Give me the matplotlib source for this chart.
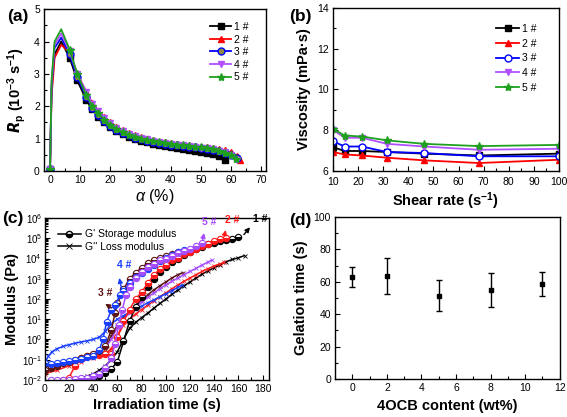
import matplotlib
matplotlib.use('Agg')
import matplotlib.pyplot as plt
from matplotlib.ticker import MultipleLocator, LogLocator, NullFormatter

plt.rcParams['font.family'] = ['Liberation Sans', 'DejaVu Sans']
plt.rcParams['mathtext.fontset'] = 'custom'
plt.rcParams['mathtext.rm'] = 'Liberation Sans'
plt.rcParams['mathtext.it'] = 'Liberation Sans:italic'
plt.rcParams['mathtext.bf'] = 'Liberation Sans:bold'

# ---- (a) polymerization rate vs conversion ----
alpha_1 = [0, 0.5, 1.5, 3.7, 6.5, 9, 12, 14, 16, 18, 20, 22, 24, 26, 28, 30, 32, 34, 36, 38,
           40, 42, 44, 46, 48, 50, 52, 54, 56, 58]
rp_1 = [0.05, 2.5, 3.6, 4.0, 3.5, 2.8, 2.2, 1.9, 1.68, 1.5, 1.36, 1.24, 1.14, 1.06, 1.0, 0.94,
        0.89, 0.84, 0.8, 0.76, 0.73, 0.7, 0.67, 0.64, 0.61, 0.58, 0.55, 0.51, 0.45, 0.35]
alpha_2 = [0, 0.5, 1.5, 3.7, 6.5, 9, 12, 14, 16, 18, 20, 22, 24, 26, 28, 30, 32, 34, 36, 38,
           40, 42, 44, 46, 48, 50, 52, 54, 56, 58, 60, 62, 63]
rp_2 = [0.05, 2.3, 3.5, 3.9, 3.65, 3.0, 2.45, 2.1, 1.86, 1.66, 1.5, 1.37, 1.26, 1.17, 1.1, 1.04,
        0.99, 0.95, 0.91, 0.88, 0.85, 0.83, 0.81, 0.79, 0.77, 0.75, 0.73, 0.71, 0.68, 0.64,
        0.58, 0.46, 0.34]
alpha_3 = [0, 0.5, 1.5, 3.7, 6.5, 9, 12, 14, 16, 18, 20, 22, 24, 26, 28, 30, 32, 34, 36, 38,
           40, 42, 44, 46, 48, 50, 52, 54, 56, 58, 60, 62]
rp_3 = [0.05, 2.6, 3.8, 4.12, 3.6, 2.9, 2.3, 1.95, 1.74, 1.55, 1.4, 1.28, 1.18, 1.1, 1.03, 0.98,
        0.94, 0.9, 0.87, 0.84, 0.81, 0.79, 0.77, 0.75, 0.73, 0.71, 0.68, 0.65, 0.61, 0.56,
        0.49, 0.4]
alpha_4 = alpha_3
rp_4 = [0.05, 2.7, 3.9, 4.25, 3.7, 3.0, 2.45, 2.08, 1.84, 1.63, 1.47, 1.34, 1.23, 1.15, 1.08,
        1.02, 0.98, 0.94, 0.9, 0.87, 0.84, 0.81, 0.79, 0.77, 0.75, 0.72, 0.7, 0.67, 0.63, 0.58,
        0.5, 0.35]
alpha_5 = [0, 0.5, 1.5, 3.7, 6.5, 9, 12, 14, 16, 18, 20, 22, 24, 26, 28, 30, 32, 34, 36, 38,
           40, 42, 44, 46, 48, 50, 52, 54, 56, 58, 60, 61.5]
rp_5 = [0.05, 2.8, 4.0, 4.38, 3.75, 3.0, 2.35, 2.0, 1.78, 1.58, 1.42, 1.3, 1.2, 1.12, 1.05, 1.0,
        0.96, 0.93, 0.9, 0.87, 0.84, 0.81, 0.79, 0.77, 0.75, 0.73, 0.7, 0.67, 0.63, 0.57,
        0.48, 0.38]

# ---- (b) viscosity vs shear rate ----
shear = [10, 14.7, 21.5, 31.6, 46.4, 68.1, 100]
visc_1 = [7.17, 6.98, 6.98, 6.93, 6.85, 6.76, 6.85]
visc_2 = [6.93, 6.81, 6.76, 6.65, 6.52, 6.39, 6.55]
visc_3 = [7.46, 7.2, 7.2, 6.93, 6.88, 6.72, 6.72]
visc_4 = [8.02, 7.63, 7.63, 7.33, 7.2, 7.04, 7.09]
visc_5 = [8.07, 7.74, 7.69, 7.5, 7.33, 7.22, 7.28]

# ---- (c) storage / loss modulus vs irradiation time ----
t_g1 = [35, 40, 45, 50, 55, 60, 65, 70, 75, 80, 85, 90, 95, 100, 105, 110, 115, 120, 125, 130,
        135, 140, 145, 150, 155, 160]
g1 = [0.010, 0.0126, 0.016, 0.022, 0.035, 0.08, 0.8, 8, 40, 120, 400, 1000, 2200, 4000, 6500,
      1.0e4, 1.5e4, 2.0e4, 2.8e4, 3.8e4, 5.0e4, 6.0e4, 7.2e4, 8.5e4, 9.5e4, 1.1e5]
t_l1 = [30, 35, 40, 45, 50, 55, 60, 65, 70, 75, 80, 85, 90, 95, 100, 105, 110, 115, 120, 125,
        130, 135, 140, 145, 150, 155, 160, 165]
l1 = [0.012, 0.015, 0.02, 0.03, 0.05, 0.1, 0.25, 1.0, 3.5, 7, 12, 20, 35, 60, 100, 170, 280,
      450, 700, 1100, 1700, 2500, 3500, 5000, 7000, 9000, 1.1e4, 1.4e4]

t_g2 = [15, 20, 25, 30, 35, 40, 45, 50, 55, 60, 65, 70, 75, 80, 85, 90, 95, 100, 105, 110, 115,
        120, 125, 130, 135, 140, 145, 150]
g2 = [0.01, 0.013, 0.05, 0.12, 0.15, 0.17, 0.17, 0.18, 0.2, 1.3, 8, 30, 100, 220, 600, 1500,
      3000, 5000, 8000, 1.1e4, 1.6e4, 2.2e4, 3.0e4, 4.0e4, 5.5e4, 7.0e4, 9.0e4, 1.0e5]
t_l2 = [0, 10, 20, 30, 40, 50, 55, 60, 65, 70, 75, 80, 85, 90, 95, 100, 105, 110, 115, 120, 125,
        130, 135, 140, 145, 148]
l2 = [0.02, 0.03, 0.05, 0.08, 0.12, 0.2, 0.35, 1.5, 5, 10, 18, 30, 50, 80, 130, 200, 320, 500,
      750, 1100, 1600, 2300, 3200, 4300, 5500, 6500]

t_g3 = [0, 5, 10, 15, 20, 25, 30, 35, 40, 45, 50, 55, 58, 60, 65, 70, 75, 80, 85, 90, 95, 100,
        105, 110]
g3 = [0.03, 0.04, 0.05, 0.07, 0.08, 0.1, 0.12, 0.15, 0.2, 0.28, 0.45, 3, 20, 60, 300, 1000, 2000,
      3500, 6000, 8000, 1.1e4, 1.4e4, 1.7e4, 2.0e4]
t_l3 = [0, 10, 20, 30, 40, 50, 55, 60, 65, 70, 75, 80, 85, 90, 95, 100, 105, 110, 114]
l3 = [0.025, 0.05, 0.08, 0.12, 0.2, 0.35, 1.5, 5, 12, 25, 50, 90, 160, 280, 450, 700, 1100, 1600,
      2000]

t_g4 = [0, 5, 10, 15, 20, 25, 30, 35, 40, 45, 48, 51, 55, 58, 62, 65, 70, 75, 80, 85, 90, 95,
        100, 105, 110, 115]
g4 = [0.07, 0.06, 0.07, 0.08, 0.09, 0.1, 0.11, 0.13, 0.16, 0.3, 1.0, 7, 30, 50, 150, 250, 600,
      1200, 2000, 3200, 5000, 7500, 1.1e4, 1.5e4, 2.0e4, 2.7e4]
t_l4 = [0, 3, 6, 10, 15, 20, 25, 30, 35, 40, 45, 50, 55, 60, 65, 70, 75, 80, 85, 90, 95, 100,
        105, 110, 113]
l4 = [0.07, 0.15, 0.25, 0.35, 0.45, 0.55, 0.65, 0.75, 0.85, 1.0, 1.3, 2.5, 6, 10, 15, 22, 32, 45,
      65, 90, 130, 180, 260, 380, 480]

t_g5 = [5, 10, 15, 20, 25, 30, 35, 40, 45, 50, 55, 58, 61, 64, 67, 70, 75, 80, 85, 90, 95, 100,
        105, 110, 115, 120, 125, 130]
g5 = [0.01, 0.01, 0.01, 0.01, 0.011, 0.012, 0.013, 0.015, 0.02, 0.04, 0.12, 0.6, 5, 30, 150, 400,
      1100, 2200, 3800, 5500, 8000, 1.0e4, 1.4e4, 1.9e4, 2.4e4, 3.0e4, 4.3e4, 6.0e4]
t_l5 = [0, 10, 20, 30, 40, 50, 55, 60, 65, 70, 75, 80, 85, 90, 95, 100, 105, 110, 115, 120, 125,
        130, 135, 138]
l5 = [0.03, 0.05, 0.08, 0.12, 0.2, 0.4, 1, 4, 10, 20, 40, 70, 120, 200, 320, 500, 750, 1100, 1600,
      2300, 3300, 4800, 6800, 8500]

# ---- (d) gelation time ----
ocb = [0, 2, 5, 8, 11]
gel_time = [63, 63.5, 51.5, 55, 58.5]
gel_err = [6, 11.3, 9.5, 10.3, 7.5]

labels = ['1 #', '2 #', '3 #', '4 #', '5 #']
col_a = ['black', '#ff0000', '#0000ff', '#b050ff', '#1fa01f']
mk_a = ['s', '^', 'o', 'v', '*']
col_c = ['black', '#ff1a1a', '#5c1414', '#1a40ff', '#a64dff']

fig = plt.figure(figsize=(5.67, 4.17), dpi=100)
ax_a = fig.add_axes([0.0776, 0.59, 0.3914, 0.388])
ax_b = fig.add_axes([0.587, 0.59, 0.399, 0.391])
ax_c = fig.add_axes([0.079, 0.089, 0.395, 0.388])
ax_d = fig.add_axes([0.591, 0.091, 0.396, 0.389])

tick_fs = 7.5
lab_fs = 10.5


def style(ax):
    for s in ax.spines.values():
        s.set_linewidth(1.0)
    ax.tick_params(which='both', direction='in', labelsize=tick_fs, width=0.8, pad=3)
    ax.tick_params(which='major', length=3.5)
    ax.tick_params(which='minor', length=2)


# (a)
alphas = [alpha_1, alpha_2, alpha_3, alpha_4, alpha_5]
rps = [rp_1, rp_2, rp_3, rp_4, rp_5]
for a, r, c, m, lb in zip(alphas, rps, col_a, mk_a, labels):
    me = [0] + list(range(4, len(a)))
    ax_a.plot(a, r, color=c, marker=m, markevery=me, markersize=5 if m != '*' else 6,
              mfc=c if m != 'o' else '#8a8a40', mec=c, lw=1.3, label=lb)
ax_a.set_xlim(-2, 71.5)
ax_a.set_ylim(0, 5)
ax_a.xaxis.set_major_locator(MultipleLocator(10))
ax_a.xaxis.set_minor_locator(MultipleLocator(5))
ax_a.yaxis.set_major_locator(MultipleLocator(1))
ax_a.yaxis.set_minor_locator(MultipleLocator(0.5))
style(ax_a)
ax_a.set_xlabel(r'$\alpha$ (%)', fontsize=lab_fs + 1, labelpad=1)
ax_a.set_ylabel(r'$\boldsymbol{R}_\mathbf{p}$ (10$^\mathbf{-3}$ s$^\mathbf{-1}$)', fontsize=lab_fs,
                fontweight='bold', labelpad=4)
ax_a.legend(loc='upper right', bbox_to_anchor=(0.95, 0.96), frameon=False, fontsize=7.5,
            handlelength=2.0, handletextpad=0.3, labelspacing=0.25, borderaxespad=0.2)

# (b)
viscs = [visc_1, visc_2, visc_3, visc_4, visc_5]
mk_b = ['s', '^', 'o', 'v', '*']
for v, c, m, lb in zip(viscs, col_a, mk_b, labels):
    ax_b.plot(shear, v, color=c, marker=m, markersize=5 if m != '*' else 6,
              mfc='white' if m == 'o' else c, mec=c, lw=1.3, label=lb)
ax_b.set_xlim(10, 100)
ax_b.set_ylim(6, 14)
ax_b.xaxis.set_major_locator(MultipleLocator(10))
ax_b.xaxis.set_minor_locator(MultipleLocator(5))
ax_b.yaxis.set_major_locator(MultipleLocator(2))
ax_b.yaxis.set_minor_locator(MultipleLocator(1))
style(ax_b)
ax_b.tick_params(axis='x', pad=4)
ax_b.set_xlabel('Shear rate (s$^\\mathbf{-1}$)', fontsize=lab_fs, fontweight='bold', labelpad=3)
ax_b.set_ylabel('Viscosity (mPa·s)', fontsize=lab_fs, fontweight='bold', labelpad=4)
ax_b.legend(loc='upper right', bbox_to_anchor=(0.93, 0.94), frameon=False, fontsize=7.5,
            handlelength=2.2, handletextpad=0.3, labelspacing=0.45, borderaxespad=0.2)

# (c)
tg = [t_g1, t_g2, t_g3, t_g4, t_g5]
gs = [g1, g2, g3, g4, g5]
tl = [t_l1, t_l2, t_l3, t_l4, t_l5]
ls_ = [l1, l2, l3, l4, l5]
for i in range(5):
    ax_c.plot(tl[i], ls_[i], color=col_c[i], marker='x', markersize=3.5, mew=0.6, lw=1.1)
for i in range(5):
    ax_c.plot(tg[i], gs[i], color=col_c[i], marker='o', markersize=4.5, fillstyle='bottom',
              mfc=col_c[i], mfcalt='white', mec=col_c[i], mew=0.8, lw=1.1)
ax_c.set_yscale('log')
ax_c.set_xlim(0, 185)
ax_c.set_ylim(1e-2, 1e6)
ax_c.xaxis.set_major_locator(MultipleLocator(20))
ax_c.xaxis.set_minor_locator(MultipleLocator(10))
ax_c.yaxis.set_major_locator(LogLocator(base=10, numticks=20))
ax_c.yaxis.set_minor_locator(LogLocator(base=10, subs=range(2, 10), numticks=20))
ax_c.yaxis.set_minor_formatter(NullFormatter())
style(ax_c)
ax_c.tick_params(axis='y', labelsize=7, pad=2)
ax_c.set_xlabel('Irradiation time (s)', fontsize=lab_fs, fontweight='bold', labelpad=3)
ax_c.set_ylabel('Modulus (Pa)', fontsize=lab_fs, fontweight='bold', labelpad=2)
hg, = ax_c.plot([], [], color='black', marker='o', markersize=4.5, fillstyle='bottom',
                mfcalt='white', lw=1.1)
hl, = ax_c.plot([], [], color='black', marker='x', markersize=4, mew=0.6, lw=1.1)
ax_c.legend([hg, hl], ["G' Storage modulus", "G'' Loss modulus"], loc='upper left',
            bbox_to_anchor=(0.03, 0.97), frameon=False, fontsize=7.5, handlelength=2.2,
            handletextpad=0.4, labelspacing=0.25, borderaxespad=0.2)
arrows_c = [((163, 1.2e5), (171, 4.5e5), '1 #', (172, 5e5), col_c[0]),
            ((148, 1.1e5), (150, 3.5e5), '2 #', (149, 4.5e5), col_c[1]),
            ((57, 30), (48, 70), '3 #', (44, 110), col_c[2]),
            ((64, 220), (61, 1500), '4 #', (60, 2800), col_c[3]),
            ((130, 6e4), (132, 2.5e5), '5 #', (130, 3.5e5), col_c[4])]
for tail, head, txt, pos, c in arrows_c:
    ax_c.annotate('', xy=head, xytext=tail,
                  arrowprops=dict(arrowstyle='-|>', color=c, lw=1.0, mutation_scale=7))
    ax_c.text(pos[0], pos[1], txt, color=c, fontsize=7.5, fontweight='bold', ha='left',
              va='bottom')

# (d)
ax_d.errorbar(ocb, gel_time, yerr=gel_err, fmt='s', color='black', markersize=3.5,
              capsize=2.5, elinewidth=1.0, capthick=1.0)
ax_d.set_xlim(-1, 12)
ax_d.set_ylim(0, 100)
ax_d.xaxis.set_major_locator(MultipleLocator(2))
ax_d.xaxis.set_minor_locator(MultipleLocator(1))
ax_d.yaxis.set_major_locator(MultipleLocator(20))
ax_d.yaxis.set_minor_locator(MultipleLocator(10))
style(ax_d)
ax_d.set_xlabel('4OCB content (wt%)', fontsize=lab_fs, fontweight='bold', labelpad=4)
ax_d.set_ylabel('Gelation time (s)', fontsize=lab_fs, fontweight='bold', labelpad=4)

for txt, x, y in [('(a)', 0.012, 0.978), ('(b)', 0.51, 0.978), ('(c)', 0.004, 0.493),
                  ('(d)', 0.51, 0.49)]:
    fig.text(x, y, txt, fontsize=12.5, fontweight='bold', va='top')

fig.savefig('out.png', dpi=100)
